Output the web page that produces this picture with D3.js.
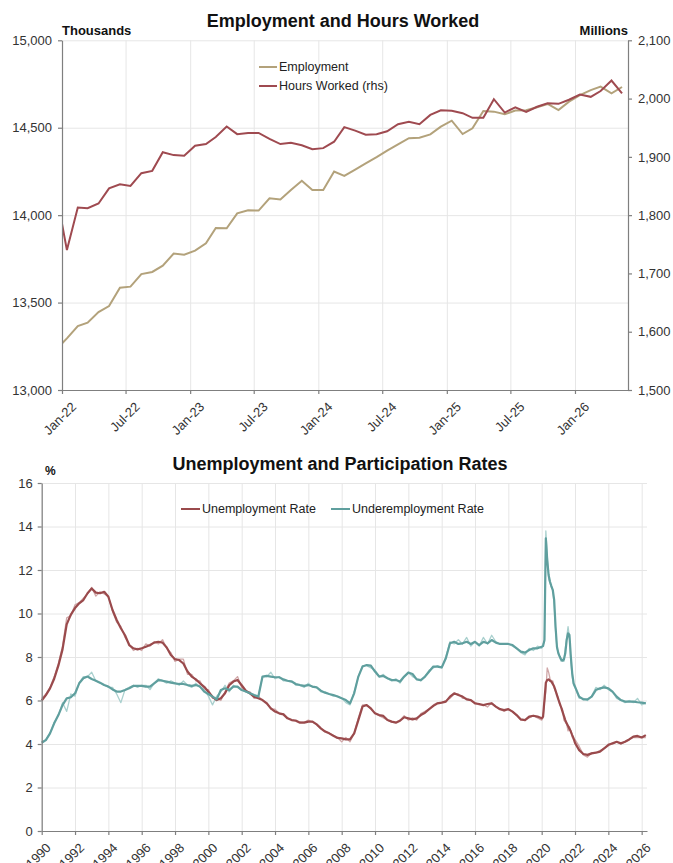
<html><head>
<title>Employment and Unemployment</title>
<script src="https://d3js.org/d3.v7.min.js"></script>
<style>
  body { margin: 0; background: #fff; }
  text { font-family: "Liberation Sans", Arial, sans-serif; }
  .grid line { stroke: #e6e6e6; stroke-width: 1px; }
  .grid path { display: none; }
  .axis path, .axis line { stroke: #7f7f7f; stroke-width: 1.2px; }
  .axis text { font-size: 13px; fill: #333; }
  .title { font-size: 18px; font-weight: bold; fill: #111; }
  .unit { font-size: 13px; font-weight: bold; fill: #111; }
  .legend { font-size: 12.5px; fill: #222; }
</style>
</head>
<body>
<svg id="chart" width="673" height="863"></svg>

<script>
// ---------- top chart data (monthly, Dec-21 .. May-26) ----------
const months = d3.timeMonth.range(new Date(2021, 11, 1), new Date(2026, 5, 1));
const employment = [13230,
  13295,13366,13385,13446,13480,13585,13591,13663,13675,13711,13780,13774,
  13797,13839,13927,13925,14010,14028,14026,14096,14090,14144,14197,14144,
  14144,14249,14225,14261,14296,14332,14369,14405,14440,14443,14462,14506,
  14540,14464,14497,14596,14592,14577,14598,14600,14617,14636,14601,14649,
  14687,14715,14735,14697,14733];
const hoursWorked = [1840,
  1740,1813,1812,1820,1846,1853,1850,1872,1876,1908,1903,1902,
  1919,1922,1934,1952,1939,1941,1941,1931,1922,1924,1920,1913,
  1915,1926,1951,1945,1938,1939,1944,1956,1960,1956,1972,1980,
  1979,1975,1967,1967,1999,1976,1985,1977,1986,1992,1991,1998,
  2007,2003,2013,2031,2009];
const leftTicks = [13000, 13500, 14000, 14500, 15000];
const rightTicks = [1500, 1600, 1700, 1800, 1900, 2000, 2100];

// ---------- bottom chart data ----------
// quarterly to 2019, monthly through 2020-21, quarterly again from 2022
const years = [].concat(
  d3.range(120).map(i => 1990 + i * 0.25),
  d3.range(24).map(i => 2020 + i / 12),
  d3.range(18).map(i => 2022 + i * 0.25));

const unempTrend = [
  6.0,6.25,6.56,7.0, 7.6,8.35,9.5,9.95, 10.25,10.47,10.62,10.93, 11.15,10.96,10.93,11.0,
  10.77,10.16,9.7,9.32, 9.0,8.55,8.4,8.35, 8.4,8.47,8.55,8.66, 8.7,8.66,8.44,8.09,
  7.9,7.86,7.7,7.33, 7.1,6.97,6.79,6.63, 6.4,6.17,6.02,6.1, 6.33,6.7,6.87,6.94,
  6.7,6.45,6.33,6.17, 6.1,6.02,5.87,5.64, 5.49,5.41,5.36,5.18, 5.1,5.07,4.98,4.98,
  5.03,5.03,4.9,4.72, 4.57,4.49,4.38,4.28, 4.26,4.21,4.21,4.49, 5.1,5.72,5.79,5.64,
  5.41,5.33,5.29,5.1, 5.03,4.98,5.07,5.23, 5.18,5.13,5.18,5.33, 5.44,5.6,5.75,5.87,
  5.9,5.95,6.18,6.33, 6.25,6.18,6.05,6.02, 5.87,5.84,5.79,5.84, 5.87,5.72,5.6,5.56,
  5.6,5.49,5.33,5.13, 5.1,5.26,5.3,5.26,
  5.18,5.26,6.02,6.82,6.94,6.97,6.91,6.87,6.76,6.64,6.45,6.25,
  6.05,5.87,5.69,5.49,5.29,5.1,4.95,4.83,4.7,4.57,4.41,4.26,
  4.05,3.72,3.54,3.5, 3.57,3.6,3.65,3.8, 3.95,4.03,4.1,4.03, 4.1,4.21,4.34,4.37, 4.3,4.41];
const unempRaw = [
  6.1,6.3,6.6,7.1, 7.7,8.5,9.8,9.9, 10.4,10.5,10.7,10.9, 11.2,10.8,11.0,10.9,
  10.8,10.1,9.6,9.4, 8.9,8.6,8.3,8.4, 8.3,8.6,8.5,8.7, 8.6,8.8,8.4,8.2,
  7.8,7.9,7.9,7.2, 7.2,6.9,6.9,6.5, 6.5,6.1,6.1,6.0, 6.4,6.8,6.9,7.1,
  6.6,6.4,6.4,6.1, 6.2,6.0,5.9,5.6, 5.6,5.4,5.4,5.2, 5.1,5.1,5.0,5.0,
  5.1,5.0,4.9,4.7, 4.6,4.5,4.4,4.3, 4.1,4.3,4.1,4.5, 5.2,5.8,5.8,5.6,
  5.4,5.3,5.2,5.1, 5.0,5.0,5.1,5.3, 5.1,5.2,5.1,5.4, 5.5,5.6,5.8,5.9,
  5.9,6.0,6.1,6.3, 6.3,6.1,6.1,6.0, 5.9,5.8,5.8,5.7, 5.9,5.7,5.6,5.5,
  5.6,5.5,5.3,5.1, 5.1,5.2,5.3,5.2,
  5.1,5.2,5.9,6.4,7.5,7.3,7.0,6.9,6.9,6.6,6.4,6.3,
  6.1,5.8,5.7,5.6,5.1,5.0,4.9,4.6,4.8,4.6,4.3,4.2,
  4.2,3.9,3.5,3.4, 3.6,3.6,3.7,3.8, 4.0,4.0,4.1,4.0, 4.1,4.2,4.3,4.3, 4.3,4.3];

const underTrend = [
  4.06,4.18,4.49,4.95, 5.33,5.79,6.1,6.15, 6.33,6.79,7.02,7.1, 6.99,6.91,6.82,6.71,
  6.64,6.51,6.41,6.41, 6.48,6.56,6.67,6.67, 6.67,6.64,6.64,6.79, 6.94,6.91,6.87,6.82,
  6.79,6.76,6.76,6.71, 6.67,6.71,6.64,6.41, 6.3,6.18,6.05,6.48, 6.56,6.48,6.64,6.64,
  6.48,6.41,6.33,6.25, 6.18,7.1,7.13,7.1, 7.07,7.07,6.97,6.91, 6.87,6.76,6.71,6.67,
  6.71,6.64,6.6,6.45, 6.36,6.3,6.25,6.18, 6.1,6.02,5.87,6.33, 7.1,7.56,7.63,7.6,
  7.33,7.1,7.13,7.02, 6.94,6.94,6.87,7.1, 7.28,7.22,6.97,6.94, 7.1,7.33,7.56,7.56,
  7.52,7.94,8.63,8.7, 8.6,8.63,8.7,8.6, 8.7,8.55,8.7,8.63, 8.78,8.66,8.6,8.6,
  8.6,8.55,8.4,8.25, 8.2,8.32,8.4,8.4,
  8.47,8.5,8.78,13.46,12.46,11.77,11.46,11.26,11.08,10.62,9.39,8.47,
  8.17,8.02,7.89,7.83,7.89,8.17,8.78,9.09,9.01,8.02,7.25,6.79,
  6.64,6.18,6.05,6.05, 6.18,6.48,6.56,6.6, 6.56,6.41,6.18,6.02, 5.95,5.95,5.95,5.92, 5.9,5.87];
const underRaw = [
  4.1,4.2,4.5,5.0, 5.3,5.9,5.5,6.3, 6.2,6.8,7.1,7.1, 7.3,6.9,6.8,6.7,
  6.6,6.6,6.3,5.9, 6.5,6.6,6.7,6.6, 6.7,6.7,6.5,6.8, 7.0,6.9,6.8,6.9,
  6.8,6.7,6.9,6.7, 6.6,6.8,6.6,6.5, 6.2,5.8,6.2,6.4, 6.7,6.4,6.7,6.6,
  6.5,6.4,6.3,6.2, 6.2,7.1,7.1,7.3, 7.0,7.1,6.9,6.9, 6.9,6.7,6.7,6.6,
  6.8,6.6,6.6,6.4, 6.4,6.3,6.2,6.2, 6.1,5.9,5.8,6.4, 7.1,7.6,7.6,7.5,
  7.4,7.1,7.2,7.0, 6.9,7.0,6.8,7.1, 7.3,7.1,7.0,6.9, 7.1,7.4,7.5,7.6,
  7.5,8.0,8.7,8.6, 8.8,8.6,8.9,8.5, 8.7,8.5,8.9,8.6, 9.0,8.7,8.6,8.6,
  8.6,8.5,8.4,8.2, 8.1,8.4,8.3,8.5,
  8.4,8.6,8.7,13.8,12.7,11.6,11.4,11.2,11.1,10.4,9.2,8.4,
  8.2,8.0,7.8,7.9,7.8,8.4,8.9,9.4,8.9,7.8,7.1,6.7,
  6.6,6.1,6.1,6.0, 6.2,6.6,6.5,6.7, 6.5,6.4,6.1,6.0, 5.9,6.0,5.9,6.1, 5.8,5.9];
const rateTicks = d3.range(0, 17, 2);
const yearTicks = d3.range(1990, 2027, 2);

const colEmp = "#b3a27b", colHours = "#9f4a50";
const colUnemp = "#9a4a4c", colUnempRaw = "#cfa6a7";
const colUnder = "#5f9f9e", colUnderRaw = "#a9d0ce";

const svg = d3.select("#chart");

// =============== 1. Employment and Hours Worked ===============
const box1 = { left: 62, right: 628, top: 40.3, bottom: 390 };
const x1 = d3.scaleTime().domain([new Date(2022, 0, 1), new Date(2026, 5, 1)]).range([box1.left, box1.right]);
const yL = d3.scaleLinear().domain([13000, 15000]).range([box1.bottom, box1.top]);
const yR = d3.scaleLinear().domain([1500, 2100]).range([box1.bottom, box1.top]);
const halfTicks = d3.timeMonth.every(6).range(new Date(2022, 0, 1), new Date(2026, 1, 1));
const mid = d => d3.timeDay.offset(d, 14);

svg.append("g").attr("class", "grid")
  .attr("transform", "translate(0," + box1.bottom + ")")
  .call(d3.axisBottom(x1).tickValues(halfTicks).tickSize(-(box1.bottom - box1.top)).tickFormat(""));
svg.append("g").attr("class", "grid")
  .attr("transform", "translate(" + box1.left + ",0)")
  .call(d3.axisLeft(yL).tickValues(leftTicks).tickSize(-(box1.right - box1.left)).tickFormat(""));

svg.append("clipPath").attr("id", "clipTop").append("rect")
  .attr("x", box1.left).attr("y", box1.top)
  .attr("width", box1.right - box1.left).attr("height", box1.bottom - box1.top);

const topLines = svg.append("g").attr("clip-path", "url(#clipTop)");
topLines.append("path")
  .attr("fill", "none").attr("stroke", colEmp).attr("stroke-width", 2)
  .attr("d", d3.line().x((d, i) => x1(mid(months[i]))).y(d => yL(d))(employment));
topLines.append("path")
  .attr("fill", "none").attr("stroke", colHours).attr("stroke-width", 2)
  .attr("d", d3.line().x((d, i) => x1(mid(months[i]))).y(d => yR(d))(hoursWorked));

svg.append("g").attr("class", "axis")
  .attr("transform", "translate(" + box1.left + ",0)")
  .call(d3.axisLeft(yL).tickValues(leftTicks).tickFormat(d3.format(",")).tickSize(4).tickSizeOuter(0).tickPadding(6));
svg.append("g").attr("class", "axis")
  .attr("transform", "translate(" + box1.right + ",0)")
  .call(d3.axisRight(yR).tickValues(rightTicks).tickFormat(d3.format(",")).tickSize(4).tickSizeOuter(0).tickPadding(6));
svg.append("g").attr("class", "axis")
  .attr("transform", "translate(0," + box1.bottom + ")")
  .call(d3.axisBottom(x1).tickValues(halfTicks).tickFormat(d3.timeFormat("%b-%y")).tickSize(4).tickSizeOuter(0))
  .selectAll("text")
    .attr("text-anchor", "end").attr("x", 0).attr("y", 0).attr("dy", "0.71em")
    .attr("transform", "translate(8,11) rotate(-45)");

svg.append("text").attr("class", "title").attr("x", 343).attr("y", 27)
  .attr("text-anchor", "middle").text("Employment and Hours Worked");
svg.append("text").attr("class", "unit").attr("x", 62).attr("y", 35).text("Thousands");
svg.append("text").attr("class", "unit").attr("x", 628).attr("y", 35)
  .attr("text-anchor", "end").text("Millions");

const legTop = [["Employment", colEmp], ["Hours Worked (rhs)", colHours]];
legTop.forEach((d, i) => {
  const yy = 67 + i * 19;
  svg.append("line").attr("x1", 259).attr("x2", 277).attr("y1", yy).attr("y2", yy)
    .attr("stroke", d[1]).attr("stroke-width", 2);
  svg.append("text").attr("class", "legend").attr("x", 279).attr("y", yy)
    .attr("dy", "0.35em").text(d[0]);
});

// =============== 2. Unemployment and Participation Rates ===============
const box2 = { left: 41.7, right: 647, top: 483, bottom: 831 };
const x2 = d3.scaleLinear().domain([1990, 2026.32]).range([box2.left, box2.right]);
const y2 = d3.scaleLinear().domain([0, 16]).range([box2.bottom, box2.top]);

svg.append("g").attr("class", "grid")
  .attr("transform", "translate(0," + box2.bottom + ")")
  .call(d3.axisBottom(x2).tickValues(yearTicks).tickSize(-(box2.bottom - box2.top)).tickFormat(""));
svg.append("g").attr("class", "grid")
  .attr("transform", "translate(" + box2.left + ",0)")
  .call(d3.axisLeft(y2).tickValues(rateTicks).tickSize(-(box2.right - box2.left)).tickFormat(""));

const rateLine = d3.line().x((d, i) => x2(years[i])).y(d => y2(d));
[[unempRaw, colUnempRaw, 1.3], [underRaw, colUnderRaw, 1.3],
 [unempTrend, colUnemp, 2.2], [underTrend, colUnder, 2.2]].forEach(s => {
  svg.append("path").attr("fill", "none").attr("stroke", s[1])
    .attr("stroke-width", s[2]).attr("stroke-linejoin", "round")
    .attr("d", rateLine(s[0]));
});

svg.append("g").attr("class", "axis")
  .attr("transform", "translate(" + box2.left + ",0)")
  .call(d3.axisLeft(y2).tickValues(rateTicks).tickSize(4).tickSizeOuter(0).tickPadding(5));
svg.append("g").attr("class", "axis")
  .attr("transform", "translate(0," + box2.bottom + ")")
  .call(d3.axisBottom(x2).tickValues(yearTicks).tickFormat(d3.format("d")).tickSize(4).tickSizeOuter(0))
  .selectAll("text")
    .attr("text-anchor", "end").attr("x", 0).attr("y", 0).attr("dy", "0.71em")
    .attr("transform", "translate(3,11) rotate(-45)");

svg.append("text").attr("class", "title").attr("x", 340).attr("y", 470)
  .attr("text-anchor", "middle").text("Unemployment and Participation Rates");
svg.append("text").attr("class", "unit").attr("x", 45).attr("y", 475)
  .style("font-size", "12px").text("%");

const legBot = [["Unemployment Rate", colUnemp, 181], ["Underemployment Rate", colUnder, 331]];
legBot.forEach(d => {
  svg.append("line").attr("x1", d[2]).attr("x2", d[2] + 19).attr("y1", 509).attr("y2", 509)
    .attr("stroke", d[1]).attr("stroke-width", 2);
  svg.append("text").attr("class", "legend").attr("x", d[2] + 21).attr("y", 509)
    .attr("dy", "0.35em").text(d[0]);
});
</script>
</body>
</html>
